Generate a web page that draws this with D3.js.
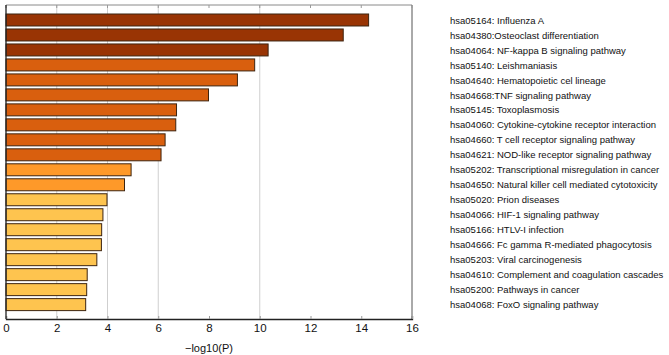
<!DOCTYPE html>
<html>
<head>
<meta charset="utf-8">
<script src="https://cdn.jsdelivr.net/npm/d3@7"></script>
<style>
  body { margin: 0; background: #fff; }
  text { font-family: "Liberation Sans", Arial, Helvetica, sans-serif; }
</style>
</head>
<body>
<div id="chart"></div>
<script>
// pathway terms, top to bottom
const terms = [
  "hsa05164: Influenza A",
  "hsa04380:Osteoclast differentiation",
  "hsa04064: NF-kappa B signaling pathway",
  "hsa05140: Leishmaniasis",
  "hsa04640: Hematopoietic cel lineage",
  "hsa04668:TNF signaling pathway",
  "hsa05145: Toxoplasmosis",
  "hsa04060: Cytokine-cytokine receptor interaction",
  "hsa04660: T cell receptor signaling pathway",
  "hsa04621: NOD-like receptor signaling pathway",
  "hsa05202: Transcriptional misregulation in cancer",
  "hsa04650: Natural killer cell mediated cytotoxicity",
  "hsa05020: Prion diseases",
  "hsa04066: HIF-1 signaling pathway",
  "hsa05166: HTLV-I infection",
  "hsa04666: Fc gamma R-mediated phagocytosis",
  "hsa05203: Viral carcinogenesis",
  "hsa04610: Complement and coagulation cascades",
  "hsa05200: Pathways in cancer",
  "hsa04068: FoxO signaling pathway"
];
const logP = [14.29, 13.29, 10.33, 9.80, 9.12, 7.98, 6.72, 6.69, 6.27, 6.11,
              4.93, 4.67, 3.98, 3.82, 3.77, 3.76, 3.58, 3.20, 3.18, 3.14];
// colour group of each bar (0 = darkest)
const group = [0, 0, 0, 1, 1, 1, 1, 1, 1, 1, 2, 2, 3, 3, 3, 3, 3, 3, 3, 3];
const groupColors = ["#993404", "#d95f0e", "#fe9929", "#fec44f"];
const xTicks = [0, 2, 4, 6, 8, 10, 12, 14, 16];
const gridAt = [2, 4, 6, 10];

const W = 669, H = 355;
const L = 6, R = 412, T = 5, B = 319;

const svg = d3.select("#chart").append("svg")
  .attr("width", W)
  .attr("height", H);

const x = d3.scaleLinear().domain([0, 16]).range([L, R]);
const y = d3.scaleBand()
  .domain(terms)
  .range([12.5, 312.1])
  .paddingInner(0.2)
  .paddingOuter(0.1);

// light grid
svg.append("g").selectAll("line")
  .data(gridAt)
  .enter().append("line")
  .attr("x1", d => x(d)).attr("x2", d => x(d))
  .attr("y1", T).attr("y2", B)
  .attr("stroke", "#cfcfcf")
  .attr("stroke-width", 1);

// bars
svg.append("g").selectAll("rect")
  .data(terms)
  .enter().append("rect")
  .attr("x", x(0))
  .attr("y", d => y(d))
  .attr("width", (d, i) => x(logP[i]) - x(0))
  .attr("height", y.bandwidth())
  .attr("fill", (d, i) => groupColors[group[i]])
  .attr("stroke", "#3d2410")
  .attr("stroke-width", 1);

// frame: top and right in grey, left and bottom in black
svg.append("line").attr("x1", L).attr("x2", R).attr("y1", T).attr("y2", T)
  .attr("stroke", "#8a8a8a");
svg.append("line").attr("x1", R).attr("x2", R).attr("y1", T).attr("y2", B)
  .attr("stroke", "#555");

// bottom axis, ticks pointing inward
const xAxis = svg.append("g")
  .attr("transform", `translate(0,${B})`)
  .call(d3.axisBottom(x).tickValues(xTicks).tickSize(-3).tickPadding(5).tickFormat(d3.format("d")));
xAxis.select(".domain").attr("stroke", "#222").attr("stroke-width", 1.3);
xAxis.selectAll(".tick line").attr("stroke", "#999");
xAxis.selectAll(".tick text").attr("font-size", 11.5).attr("fill", "#111")
  .style("font-family", "'Liberation Sans', Arial, sans-serif");

// top ticks
svg.append("g").selectAll("line")
  .data(xTicks)
  .enter().append("line")
  .attr("x1", d => x(d)).attr("x2", d => x(d))
  .attr("y1", T).attr("y2", T + 3)
  .attr("stroke", "#999");

// left edge
svg.append("line").attr("x1", L).attr("x2", L).attr("y1", T).attr("y2", B)
  .attr("stroke", "#222").attr("stroke-width", 1.3);

// axis title
svg.append("text")
  .attr("x", (L + R) / 2)
  .attr("y", 352)
  .attr("text-anchor", "middle")
  .attr("font-size", 11)
  .attr("fill", "#111")
  .text("\u2212log10(P)");

// term labels
svg.append("g").selectAll("text")
  .data(terms)
  .enter().append("text")
  .attr("x", 450)
  .attr("y", d => y(d) + y.bandwidth() / 2)
  .attr("dy", "0.38em")
  .attr("font-size", 9.5)
  .attr("fill", "#111")
  .text(d => d);
</script>
</body>
</html>
